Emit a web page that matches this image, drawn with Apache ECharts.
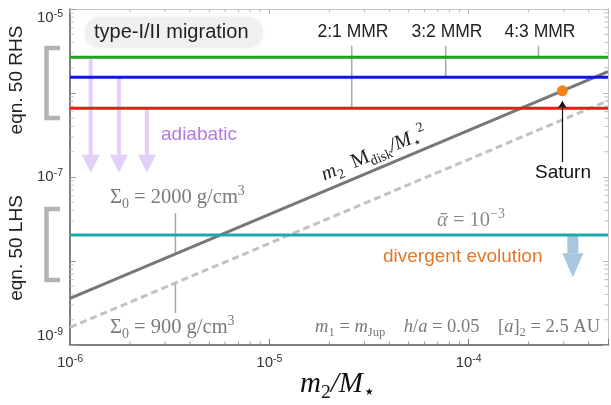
<!DOCTYPE html>
<html>
<head>
<meta charset="utf-8">
<script src="https://cdn.jsdelivr.net/npm/echarts@6/dist/echarts.min.js"></script>
<style>
  html, body { margin: 0; padding: 0; background: #fff; }
  #c { width: 611px; height: 405px; }
</style>
</head>
<body>
<div id="c"></div>
<script>
// Axis ranges (log-log)
const xRange = [1e-6, 5e-4];
const yRange = [1e-9, 1e-5];
// Decades that carry a tick label
const xLabelExps = [-6, -5, -4];
const yLabelExps = [-9, -7, -5];

// eqn. 50 RHS: migration thresholds
const rhsGreen = 2.66e-6;
const rhsBlue = 1.54e-6;
const rhsRed = 6.6e-7;
// eqn. 50 LHS: alpha = 1e-3
const lhsAlpha = 2.04e-8;

// m2 Mdisk / M*^2 for two disc surface densities (end points)
const sigma2000 = [[1e-6, 3.6e-9], [5e-4, 1.8e-6]];
const sigma900 = [[1e-6, 1.62e-9], [5e-4, 8.1e-7]];

// Saturn
const saturn = [2.95e-4, 1.06e-6];
const saturnArrow = [1.5e-7, 8.0e-7];

// Mean-motion resonance markers
const mmrNames = ['2:1 MMR', '3:2 MMR', '4:3 MMR'];
const mmrX = [2.59e-5, 7.67e-5, 2.24e-4];
const mmrTop = 3.65e-6;
const mmrBottom = [rhsRed, rhsBlue, rhsGreen];

// Surface-density label markers
const sigmaMarkX = 3.38e-6;
const sigma2000Mark = [3.73e-8, 1.22e-8];
const sigma900Mark = [5.45e-9, 2.4e-9];

// Arrows: [x, from, to]
const adiabaticX = [1.27e-6, 1.76e-6, 2.43e-6];
const adiabaticFrom = [rhsGreen, rhsBlue, rhsRed];
const adiabaticTo = 1.12e-7;
const divergentX = 3.33e-4;
const divergentTo = 6.4e-9;

const SANS = '"Liberation Sans", Arial, Helvetica, sans-serif';
const SERIF = '"Liberation Serif", "DejaVu Serif", serif';

function expOf(v) { return Math.round(Math.log10(v)); }
function isDecade(v) { return Math.abs(Math.log10(v) - expOf(v)) < 1e-6; }
function tickFmt(exps) {
  return function (v) {
    if (!isDecade(v)) return '';
    const e = expOf(v);
    return exps.indexOf(e) >= 0 ? '{b|10}{s|' + e + '}' : '';
  };
}
const tickRich = {
  b: { fontFamily: SANS, fontSize: 15, color: '#333', lineHeight: 18, verticalAlign: 'middle' },
  s: { fontFamily: SANS, fontSize: 10.5, color: '#333', lineHeight: 9, verticalAlign: 'top' }
};

// minor log ticks (2..9 within each decade)
const xMinor = [];
for (let e = -6; e <= -4; e++) for (let m = 2; m <= 9; m++) {
  const v = m * Math.pow(10, e);
  if (v < xRange[1] * 0.999) xMinor.push([v, 1e-7]);
}
const yMinor = [];
for (let e = -9; e <= -6; e++) for (let m = 2; m <= 9; m++) {
  yMinor.push([1e-5, m * Math.pow(10, e)]);
}

function minorXItem(params, api) {
  const cs = params.coordSys;
  const px = api.coord([api.value(0), 1e-7])[0];
  const b = cs.y + cs.height;
  return { type: 'group', children: [
    { type: 'line', shape: { x1: px, y1: b, x2: px, y2: b - 3.5 }, style: { stroke: '#999', lineWidth: 1 } },
    { type: 'line', shape: { x1: px, y1: cs.y, x2: px, y2: cs.y + 3.5 }, style: { stroke: '#bbb', lineWidth: 1 } }
  ] };
}
function minorYItem(params, api) {
  const cs = params.coordSys;
  const py = api.coord([1e-5, api.value(1)])[1];
  const r = cs.x + cs.width;
  return { type: 'group', children: [
    { type: 'line', shape: { x1: cs.x, y1: py, x2: cs.x + 3.5, y2: py }, style: { stroke: '#bbb', lineWidth: 1 } },
    { type: 'line', shape: { x1: r, y1: py, x2: r - 3.5, y2: py }, style: { stroke: '#bbb', lineWidth: 1 } }
  ] };
}

function arrowSeries(data, color, shaftW, headW, headH) {
  return {
    type: 'custom', data: data, encode: { x: 0, y: [1, 2] }, z: 1, silent: true, clip: false,
    renderItem: function (params, api) {
      const p0 = api.coord([api.value(0), api.value(1)]);
      const p1 = api.coord([api.value(0), api.value(2)]);
      const x = p0[0], tip = p1[1], base = tip - headH;
      return { type: 'group', children: [
        { type: 'rect', shape: { x: x - shaftW / 2, y: p0[1], width: shaftW, height: base - p0[1] }, style: { fill: color } },
        { type: 'polygon', shape: { points: [[x - headW / 2, base], [x + headW / 2, base], [x, tip]] }, style: { fill: color } }
      ] };
    }
  };
}

function hLine(v, color) {
  return { type: 'line', data: [[xRange[0], v], [xRange[1], v]], symbol: 'none',
    lineStyle: { color: color, width: 3 }, z: 4, silent: true };
}
function vMark(x, y0, y1) {
  return { type: 'line', data: [[x, y0], [x, y1]], symbol: 'none',
    lineStyle: { color: '#a8a8a8', width: 1.5 }, z: 2, silent: true };
}

const series = [
  { type: 'custom', data: xMinor, encode: { x: 0, y: 1 }, renderItem: minorXItem, silent: true, clip: false, z: 1 },
  { type: 'custom', data: yMinor, encode: { x: 0, y: 1 }, renderItem: minorYItem, silent: true, clip: false, z: 1 },
  arrowSeries(adiabaticX.map((x, i) => [x, adiabaticFrom[i], adiabaticTo]), '#e3d0f6', 4, 18, 18),
  arrowSeries([[divergentX, lhsAlpha, divergentTo]], '#a9c6df', 11, 21, 24),
  { type: 'line', data: sigma900, symbol: 'none', lineStyle: { color: '#c2c2c2', width: 3, type: [7, 4] }, z: 3, silent: true },
  { type: 'line', data: sigma2000, symbol: 'none', lineStyle: { color: '#777', width: 3 }, z: 3, silent: true },
  hLine(rhsGreen, '#20a020'),
  hLine(rhsBlue, '#1414f0'),
  hLine(rhsRed, '#f01818'),
  hLine(lhsAlpha, '#1aaba8'),
  vMark(sigmaMarkX, sigma2000Mark[0], sigma2000Mark[1]),
  vMark(sigmaMarkX, sigma900Mark[0], sigma900Mark[1])
];
mmrX.forEach((x, i) => series.push(vMark(x, mmrTop, mmrBottom[i])));
series.push({
  type: 'scatter', data: [saturn], symbolSize: 11, itemStyle: { color: '#f7821c', opacity: 1 }, z: 6, silent: true,
  markLine: {
    silent: true, symbol: ['none', 'arrow'], symbolSize: 7, label: { show: false },
    lineStyle: { color: '#111', width: 1.2, type: 'solid' },
    data: [[{ coord: [saturn[0], saturnArrow[0]] }, { coord: [saturn[0], saturnArrow[1]] }]]
  }
});

// rich-text styles for the serif math labels (zrender uses fill)
const mathRich = (size, color) => ({
  r: { fontFamily: SERIF, fontSize: size, fill: color, lineHeight: size * 1.3, verticalAlign: 'middle' },
  i: { fontFamily: SERIF, fontStyle: 'italic', fontSize: size, fill: color, lineHeight: size * 1.3, verticalAlign: 'middle' },
  sub: { fontFamily: SERIF, fontSize: size * 0.68, fill: color, lineHeight: size * 0.6, verticalAlign: 'bottom' },
  sup: { fontFamily: SERIF, fontSize: size * 0.68, fill: color, lineHeight: size * 0.5, verticalAlign: 'top' }
});

function sansText(text, x, y, size, color, align) {
  return { type: 'text', z: 20, silent: true,
    style: { text: text, x: x, y: y, fontFamily: SANS, fontSize: size, fill: color, align: align || 'left', verticalAlign: 'middle' } };
}
function mathText(text, x, y, size, color, align, rotation) {
  return { type: 'text', z: 20, silent: true, rotation: rotation || 0, x: x, y: y,
    style: { text: text, x: 0, y: 0, fill: color, align: align || 'left', verticalAlign: 'middle', rich: mathRich(size, color) } };
}

const graphics = [
  // brackets for the two sides of eqn. 50
  { type: 'polyline', z: 5, silent: true, shape: { points: [[60, 48], [46.5, 48], [46.5, 118], [60, 118]] }, style: { stroke: '#b3b3b3', lineWidth: 4.5, fill: null } },
  { type: 'polyline', z: 5, silent: true, shape: { points: [[60, 209], [46.5, 209], [46.5, 280], [60, 280]] }, style: { stroke: '#b3b3b3', lineWidth: 4.5, fill: null } },
  { type: 'text', z: 20, silent: true, rotation: Math.PI / 2, x: 17, y: 80,
    style: { text: 'eqn. 50 RHS', x: 0, y: 0, align: 'center', verticalAlign: 'middle', fontFamily: SANS, fontSize: 19, fill: '#222' } },
  { type: 'text', z: 20, silent: true, rotation: Math.PI / 2, x: 17, y: 248,
    style: { text: 'eqn. 50 LHS', x: 0, y: 0, align: 'center', verticalAlign: 'middle', fontFamily: SANS, fontSize: 19, fill: '#222' } },
  // migration regime tag
  { type: 'rect', z: 15, silent: true, shape: { x: 85, y: 17, width: 178, height: 31, r: 15 }, style: { fill: '#f0f0f0', shadowBlur: 4, shadowColor: '#f0f0f0' } },
  sansText('type-I/II migration', 94, 32.5, 20, '#222'),
  sansText('adiabatic', 161, 135, 19, '#b57ae2'),
  sansText('divergent evolution', 383, 257, 19, '#e0782a'),
  sansText('Saturn', 563, 173, 19, '#111', 'center'),
  mathText('{r|Σ}{sub|0}{r| = 2000 g/cm}{sup|3}', 110, 198, 20.5, '#7a7a7a'),
  mathText('{r|Σ}{sub|0}{r| = 900 g/cm}{sup|3}', 110, 328, 20.5, '#7a7a7a'),
  mathText('{i|ᾱ}{r| = 10}{sup|−3}', 437, 221, 20.5, '#8a8a8a'),
  mathText('{i|m}{sub|1}{r| = }{i|m}{sub|Jup}{r|    }{i|h}{r|/}{i|a}{r| = 0.05    [}{i|a}{r|]}{sub|2}{r| = 2.5 AU}', 600, 327, 18.5, '#7a7a7a', 'right'),
  mathText('{i|m}{sub|2}{r|  M}{sub|disk}{i|/M}{sub|⋆}{sup|2}', 374, 154, 20.5, '#222', 'center', Math.atan(84 / 200)),
  mathText('{i|m}{sub|2}{i|/M}{sub|⋆}', 338, 384, 29, '#111', 'center')
];
mmrNames.forEach((n, i) => graphics.push(sansText(n, [353, 447, 540][i], 32, 17.5, '#222', 'center')));

const chart = echarts.init(document.getElementById('c'));
chart.setOption({
  backgroundColor: '#fff',
  animation: false,
  grid: { left: 70, right: 1, top: 9, bottom: 60, containLabel: false },
  xAxis: [
    { type: 'log', logBase: 10, min: xRange[0], max: xRange[1], position: 'bottom',
      axisLine: { show: true, onZero: false, lineStyle: { color: '#555', width: 1.5 } },
      axisTick: { show: true, inside: true, length: 6, lineStyle: { color: '#777' } },
      axisLabel: { formatter: tickFmt(xLabelExps), rich: tickRich, margin: 9, showMinLabel: true, hideOverlap: false },
      splitLine: { show: false }, minorTick: { show: false } },
    { type: 'log', logBase: 10, min: xRange[0], max: xRange[1], position: 'top',
      axisLine: { show: true, onZero: false, lineStyle: { color: '#c8c8c8', width: 1 } },
      axisTick: { show: true, inside: true, length: 5, lineStyle: { color: '#bbb' } },
      axisLabel: { show: false }, splitLine: { show: false } }
  ],
  yAxis: [
    { type: 'log', logBase: 10, min: yRange[0], max: yRange[1], position: 'left',
      axisLine: { show: true, onZero: false, lineStyle: { color: '#555', width: 1.5 } },
      axisTick: { show: true, inside: true, length: 6, lineStyle: { color: '#999' } },
      axisLabel: { formatter: tickFmt(yLabelExps), rich: tickRich, margin: 7, showMinLabel: true, showMaxLabel: true,
        hideOverlap: false, verticalAlignMinLabel: 'bottom', verticalAlignMaxLabel: 'top' },
      splitLine: { show: false }, minorTick: { show: false } },
    { type: 'log', logBase: 10, min: yRange[0], max: yRange[1], position: 'right',
      axisLine: { show: true, onZero: false, lineStyle: { color: '#c8c8c8', width: 1 } },
      axisTick: { show: true, inside: true, length: 5, lineStyle: { color: '#bbb' } },
      axisLabel: { show: false }, splitLine: { show: false } }
  ],
  series: series,
  graphic: graphics
});
</script>
</body>
</html>
